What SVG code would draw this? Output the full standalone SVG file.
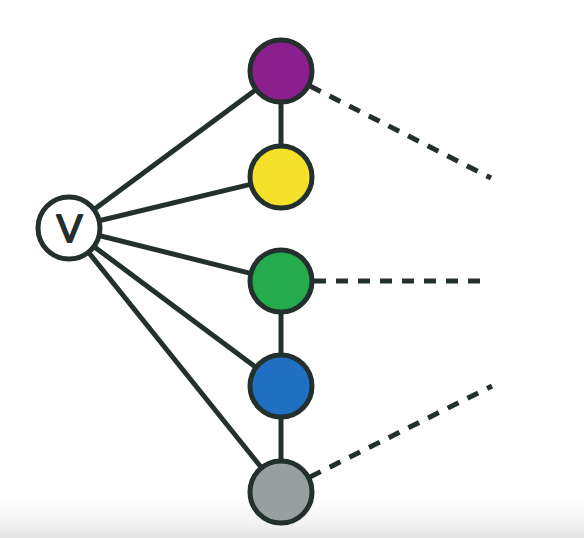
<svg xmlns="http://www.w3.org/2000/svg" width="584" height="538" viewBox="0 0 584 538">
<style>
.edge{stroke:#23302e;stroke-width:5;fill:none}
.dash{stroke:#23302e;stroke-width:5;fill:none;stroke-dasharray:12 10}
.node{stroke:#23302e;stroke-width:5}
.lbl{font-family:"Liberation Sans",Arial,sans-serif;font-size:39px;font-weight:normal;fill:#23302e;stroke:#23302e;stroke-width:1.8;stroke-linejoin:round}
</style>
<defs>
<linearGradient id="fade" x1="0" y1="0" x2="0" y2="1">
<stop offset="0" stop-color="#ffffff" stop-opacity="0"/>
<stop offset="1" stop-color="#e4e4e4"/>
</linearGradient>
</defs>
<rect width="584" height="538" fill="#ffffff"/>
<rect x="0" y="488" width="584" height="50" fill="url(#fade)"/>
<g id="connectors">
<line class="edge" x1="69" y1="228" x2="281" y2="71"/>
<line class="edge" x1="69" y1="228" x2="281" y2="177"/>
<line class="edge" x1="69" y1="228" x2="281" y2="281"/>
<line class="edge" x1="69" y1="228" x2="281" y2="386"/>
<line class="edge" x1="69" y1="228" x2="281" y2="492"/>
<line class="edge" x1="281" y1="71" x2="281" y2="177"/>
<line class="edge" x1="281" y1="281" x2="281" y2="386"/>
<line class="edge" x1="281" y1="386" x2="281" y2="492"/>
<line class="dash" x1="310" y1="86" x2="491" y2="178"/>
<line class="dash" x1="314" y1="281" x2="483" y2="281"/>
<line class="dash" x1="310" y1="477" x2="492" y2="386"/>
</g>
<g id="node-v">
<circle class="node" cx="69" cy="228" r="31" fill="#ffffff"/>
<text class="lbl" x="69.5" y="242" text-anchor="middle">V</text>
</g>
<g id="node-purple"><circle class="node" cx="281" cy="71" r="31" fill="#8c1f8e"/></g>
<g id="node-yellow"><circle class="node" cx="281" cy="177" r="31" fill="#f5e12a"/></g>
<g id="node-green"><circle class="node" cx="281" cy="281" r="31" fill="#23ab4d"/></g>
<g id="node-blue"><circle class="node" cx="281" cy="386" r="31" fill="#1f6fc3"/></g>
<g id="node-gray"><circle class="node" cx="281" cy="492" r="31" fill="#97a09e"/></g>
</svg>
